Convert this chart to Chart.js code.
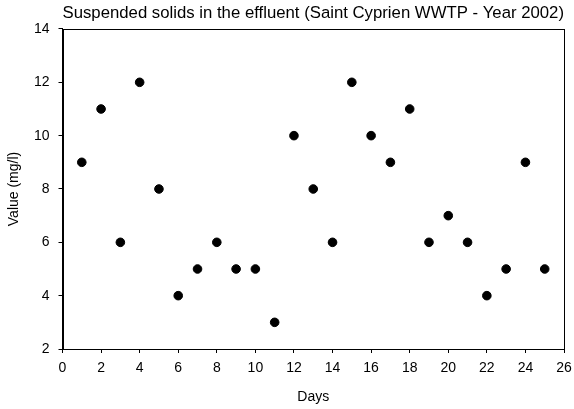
<!DOCTYPE html>
<html>
<head>
<meta charset="utf-8">
<script src="https://cdn.jsdelivr.net/npm/chart.js@4/dist/chart.umd.min.js"></script>
<style>
html,body{margin:0;padding:0;background:#fff;}
#wrap{width:574px;height:409px;}
</style>
</head>
<body>
<div id="wrap"><canvas id="c" width="574" height="409"></canvas></div>
<script>
const days = [1,2,3,4,5,6,7,8,9,10,11,12,13,14,15,16,17,18,19,20,21,22,23,24,25];
const values = [9,11,6,12,8,4,5,6,5,5,3,10,8,6,12,10,9,11,6,7,6,4,5,9,5];
const xTicks = [0,2,4,6,8,10,12,14,16,18,20,22,24,26];
const yTicks = [2,4,6,8,10,12,14];
const titleText = 'Suspended solids in the effluent (Saint Cyprien WWTP - Year 2002)';
const xTitle = 'Days';
const yTitle = 'Value (mg/l)';

const FONT = 'Arial, "Liberation Sans", sans-serif';

const boxPlugin = {
  id: 'box',
  afterDraw(chart) {
    const {ctx, chartArea: a} = chart;
    ctx.save();
    ctx.strokeStyle = '#000';
    ctx.lineWidth = 1;
    ctx.strokeRect(Math.round(a.left) + 0.5, Math.round(a.top) + 0.5,
      Math.round(a.right - a.left) - 1, Math.round(a.bottom - a.top));
    ctx.restore();
  }
};

new Chart(document.getElementById('c'), {
  type: 'scatter',
  data: {
    datasets: [{
      data: days.map((d, i) => ({x: d, y: values[i]})),
      backgroundColor: '#000',
      borderColor: '#000',
      pointRadius: 4.3,
      pointHoverRadius: 4.3
    }]
  },
  options: {
    responsive: false,
    animation: false,
    events: [],
    layout: {padding: {left: 0, right: 10, top: 0, bottom: 0}},
    plugins: {
      legend: {display: false},
      tooltip: {enabled: false},
      title: {
        display: true,
        text: titleText,
        fullSize: false,
        color: '#000',
        font: {family: FONT, size: 17.4, weight: 'normal'},
        padding: {top: 3, bottom: 5.1}
      }
    },
    scales: {
      x: {
        type: 'linear',
        min: 0, max: 26,
        afterFit(s) { s.height = 60; s.paddingRight = 0; s.paddingLeft = 0; },
        afterBuildTicks(s) { s.ticks = xTicks.map(v => ({value: v})); },
        grid: {display: true, drawOnChartArea: false, drawTicks: true, tickLength: 4, color: '#000'},
        border: {display: true, color: '#000'},
        ticks: {color: '#000', font: {family: FONT, size: 14}, padding: 7, maxRotation: 0, autoSkip: false},
        title: {display: true, text: xTitle, color: '#000', font: {family: FONT, size: 14}, padding: {bottom: 3.6, top: 0}}
      },
      y: {
        type: 'linear',
        min: 2, max: 14,
        afterFit(s) { s.width = 62.5; s.paddingTop = 0; s.paddingBottom = 0; },
        afterBuildTicks(s) { s.ticks = yTicks.map(v => ({value: v})); },
        grid: {display: true, drawOnChartArea: false, drawTicks: true, tickLength: 4, color: '#000'},
        border: {display: true, color: '#000'},
        ticks: {color: '#000', font: {family: FONT, size: 14}, padding: 9, autoSkip: false},
        title: {display: true, text: yTitle, color: '#000', font: {family: FONT, size: 14}, padding: {top: 5.5, bottom: 0}}
      }
    }
  },
  plugins: [boxPlugin]
});
</script>
</body>
</html>
